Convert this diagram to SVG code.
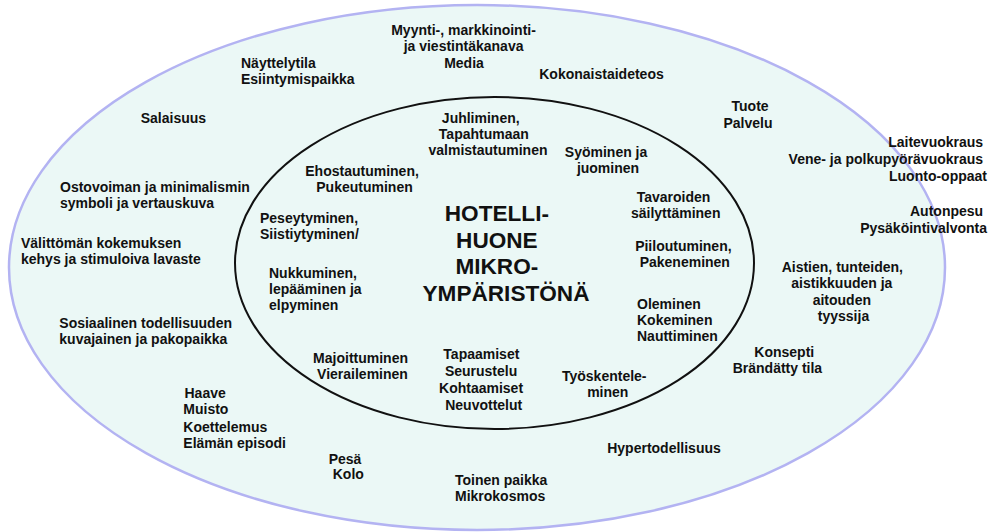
<svg xmlns="http://www.w3.org/2000/svg" width="996" height="532" viewBox="0 0 996 532">
  <style>
    .t { font-family: "Liberation Sans", Arial, sans-serif; font-weight: bold; font-size: 14px; fill: #111; }
    .c { text-anchor: middle; }
    .r { text-anchor: end; }
    .title { font-family: "Liberation Sans", Arial, sans-serif; font-weight: bold; font-size: 22.6px; fill: #111; text-anchor: middle; }
    .outer { fill: #ebf8f6; stroke: #b3b3f2; stroke-width: 2.5; }
    .inner { fill: none; stroke: #111; stroke-width: 2; }
  </style>

  <!-- rings -->
  <g id="rings">
    <ellipse class="outer" cx="477" cy="267.5" rx="468" ry="262.5"/>
    <ellipse class="inner" cx="494.5" cy="263" rx="259.5" ry="166"/>
  </g>

  <!-- centre title -->
  <g id="title">
    <text class="title">
      <tspan x="500" y="221">HOTELLI-</tspan>
      <tspan x="500" y="247.5">HUONE</tspan>
      <tspan x="500" y="274">MIKRO-</tspan>
      <tspan x="506" y="300.5">YMPÄRISTÖNÄ</tspan>
    </text>
  </g>

  <!-- inner ring: activities -->
  <g id="juhliminen">
    <text class="t c">
      <tspan x="482.7" y="122.7">Juhliminen,</tspan>
      <tspan x="485.8" y="138.5">Tapahtumaan</tspan>
      <tspan x="488" y="154.5">valmistautuminen</tspan>
    </text>
  </g>
  <g id="syominen">
    <text class="t c">
      <tspan x="608" y="156.7">Syöminen ja</tspan>
      <tspan x="608" y="172.5">juominen</tspan>
    </text>
  </g>
  <g id="ehostautuminen">
    <text class="t c">
      <tspan x="364" y="175.7">Ehostautuminen,</tspan>
      <tspan x="364.5" y="191.7">Pukeutuminen</tspan>
    </text>
  </g>
  <g id="tavaroiden">
    <text class="t c">
      <tspan x="675.5" y="201.7">Tavaroiden</tspan>
      <tspan x="675.7" y="217.7">säilyttäminen</tspan>
    </text>
  </g>
  <g id="peseytyminen">
    <text class="t">
      <tspan x="260" y="223.3">Peseytyminen,</tspan>
      <tspan x="260" y="239">Siistiytyminen/</tspan>
    </text>
  </g>
  <g id="piiloutuminen">
    <text class="t c">
      <tspan x="685.3" y="250.7">Piiloutuminen,</tspan>
      <tspan x="684.8" y="266.7">Pakeneminen</tspan>
    </text>
  </g>
  <g id="nukkuminen">
    <text class="t">
      <tspan x="269" y="278.3">Nukkuminen,</tspan>
      <tspan x="269" y="294">lepääminen ja</tspan>
      <tspan x="269" y="310">elpyminen</tspan>
    </text>
  </g>
  <g id="oleminen">
    <text class="t">
      <tspan x="637" y="309.3">Oleminen</tspan>
      <tspan x="637" y="325">Kokeminen</tspan>
      <tspan x="637" y="341">Nauttiminen</tspan>
    </text>
  </g>
  <g id="majoittuminen">
    <text class="t c">
      <tspan x="362.5" y="363.3">Majoittuminen</tspan>
      <tspan x="362.5" y="379">Vieraileminen</tspan>
    </text>
  </g>
  <g id="tapaamiset">
    <text class="t c">
      <tspan x="483.3" y="359.3">Tapaamiset</tspan>
      <tspan x="483" y="376">Seurustelu</tspan>
      <tspan x="483" y="393.3">Kohtaamiset</tspan>
      <tspan x="483.7" y="410">Neuvottelut</tspan>
    </text>
  </g>
  <g id="tyoskenteleminen">
    <text class="t c">
      <tspan x="606.2" y="380.7">Työskentele-</tspan>
      <tspan x="607.8" y="396.7">minen</tspan>
    </text>
  </g>

  <!-- outer ring: meanings and services -->
  <g id="myynti">
    <text class="t c">
      <tspan x="465.5" y="34.7">Myynti-, markkinointi-</tspan>
      <tspan x="465.5" y="51">ja viestintäkanava</tspan>
      <tspan x="464" y="68">Media</tspan>
    </text>
  </g>
  <g id="nayttelytila">
    <text class="t">
      <tspan x="241" y="67.7">Näyttelytila</tspan>
      <tspan x="241" y="83.5">Esiintymispaikka</tspan>
    </text>
  </g>
  <g id="kokonaistaideteos">
    <text class="t c" x="601.5" y="79">Kokonaistaideteos</text>
  </g>
  <g id="salaisuus">
    <text class="t" x="140.7" y="123">Salaisuus</text>
  </g>
  <g id="tuote">
    <text class="t r">
      <tspan x="772.5" y="111">Tuote</tspan>
      <tspan x="772.5" y="128">Palvelu</tspan>
    </text>
  </g>
  <g id="laitevuokraus">
    <text class="t r">
      <tspan x="987" y="147.3">Laitevuokraus</tspan>
      <tspan x="987" y="164.3">Vene- ja polkupyörävuokraus</tspan>
      <tspan x="987" y="181">Luonto-oppaat</tspan>
    </text>
  </g>
  <g id="ostovoima">
    <text class="t">
      <tspan x="60" y="191.7">Ostovoiman ja minimalismin</tspan>
      <tspan x="60" y="207.7">symboli ja vertauskuva</tspan>
    </text>
  </g>
  <g id="autonpesu">
    <text class="t r">
      <tspan x="987" y="215.7">Autonpesu</tspan>
      <tspan x="987" y="232.7">Pysäköintivalvonta</tspan>
    </text>
  </g>
  <g id="valittoman">
    <text class="t">
      <tspan x="21" y="248.3">Välittömän kokemuksen</tspan>
      <tspan x="21" y="264.3">kehys ja stimuloiva lavaste</tspan>
    </text>
  </g>
  <g id="aistien">
    <text class="t c">
      <tspan x="844.3" y="271.7">Aistien, tunteiden,</tspan>
      <tspan x="843.8" y="287.5">aistikkuuden ja</tspan>
      <tspan x="843.8" y="305">aitouden</tspan>
      <tspan x="843.5" y="320.7">tyyssija</tspan>
    </text>
  </g>
  <g id="sosiaalinen">
    <text class="t">
      <tspan x="59.3" y="328.3">Sosiaalinen todellisuuden</tspan>
      <tspan x="59.3" y="344">kuvajainen ja pakopaikka</tspan>
    </text>
  </g>
  <g id="konsepti">
    <text class="t">
      <tspan x="754.3" y="357.3">Konsepti</tspan>
      <tspan x="732.7" y="373.3">Brändätty tila</tspan>
    </text>
  </g>
  <g id="haave">
    <text class="t">
      <tspan x="184.5" y="398.3">Haave</tspan>
      <tspan x="183.3" y="414.3">Muisto</tspan>
      <tspan x="183.3" y="431.5">Koettelemus</tspan>
      <tspan x="183.3" y="448.3">Elämän episodi</tspan>
    </text>
  </g>
  <g id="hypertodellisuus">
    <text class="t c" x="664" y="452.7">Hypertodellisuus</text>
  </g>
  <g id="pesa">
    <text class="t c">
      <tspan x="347" y="464">Pesä</tspan>
      <tspan x="348.3" y="479.3">Kolo</tspan>
    </text>
  </g>
  <g id="toinen-paikka">
    <text class="t">
      <tspan x="455" y="485">Toinen paikka</tspan>
      <tspan x="455" y="500.7">Mikrokosmos</tspan>
    </text>
  </g>

  <!-- no connectors in this diagram -->
  <g id="connectors"/>
</svg>
